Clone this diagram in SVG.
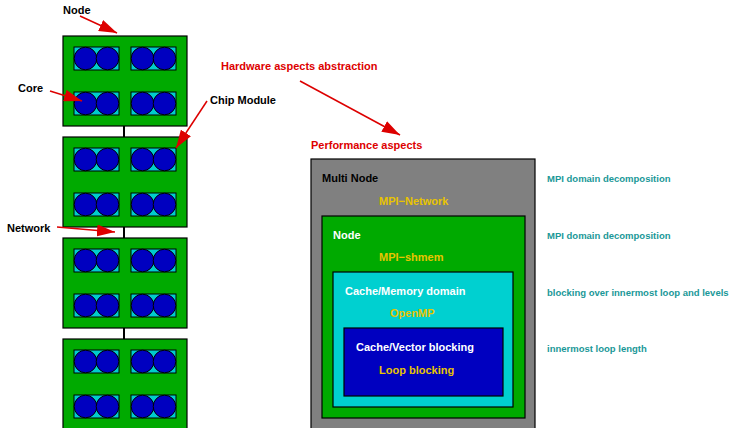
<svg xmlns="http://www.w3.org/2000/svg" xmlns:xlink="http://www.w3.org/1999/xlink" width="734" height="428" viewBox="0 0 734 428">
  <style>
    text { font-family: "Liberation Sans", Arial, sans-serif; font-weight: bold; }
    .lbl { font-size: 11px; fill: #000000; }
    .red { font-size: 11px; fill: #dd0000; }
    .wht { font-size: 11px; fill: #ffffff; }
    .yel { font-size: 11px; fill: #e8c400; }
    .teal { font-size: 9.5px; fill: #1a9898; }
    .node { fill: #00aa00; stroke: #000000; stroke-width: 1.2; }
    .chip { fill: #00cccc; stroke: #000000; stroke-width: 1; }
    .core { fill: #0000c0; stroke: #000000; stroke-width: 1; }
    .link { stroke: #000000; stroke-width: 2; }
    .arrow { stroke: #dd0000; stroke-width: 1.5; fill: none; marker-end: url(#head); }
  </style>
  <defs>
    <marker id="head" viewBox="0 0 18 12" refX="18" refY="6" markerWidth="18" markerHeight="12" markerUnits="userSpaceOnUse" orient="auto">
      <path d="M0,0 L18,6 L0,12 z" fill="#dd0000"/>
    </marker>
    <g id="chipShape">
      <rect class="chip" x="0" y="0" width="45" height="23"/>
      <circle class="core" cx="11.5" cy="11.5" r="11.3"/>
      <circle class="core" cx="33.5" cy="11.5" r="11.3"/>
    </g>
    <g id="nodeShape">
      <rect class="node" x="0" y="0" width="124" height="90"/>
      <use xlink:href="#chipShape" x="11" y="11"/>
      <use xlink:href="#chipShape" x="68" y="11"/>
      <use xlink:href="#chipShape" x="11" y="56"/>
      <use xlink:href="#chipShape" x="68" y="56"/>
    </g>
  </defs>

  <!-- network links between nodes -->
  <g id="connectors">
    <line class="link" x1="124" y1="126" x2="124" y2="137"/>
    <line class="link" x1="124" y1="227" x2="124" y2="238"/>
    <line class="link" x1="124" y1="328" x2="124" y2="339"/>
  </g>

  <!-- stack of nodes -->
  <g id="node1" transform="translate(63,36)"><use xlink:href="#nodeShape"/></g>
  <g id="node2" transform="translate(63,137)"><use xlink:href="#nodeShape"/></g>
  <g id="node3" transform="translate(63,238)"><use xlink:href="#nodeShape"/></g>
  <g id="node4" transform="translate(63,339)"><use xlink:href="#nodeShape"/></g>

  <!-- callout labels -->
  <g id="labels">
    <text class="lbl" x="63" y="14">Node</text>
    <text class="lbl" x="18" y="92">Core</text>
    <text class="lbl" x="210" y="104">Chip Module</text>
    <text class="lbl" x="7" y="232">Network</text>
    <text class="red" x="221" y="70">Hardware aspects abstraction</text>
    <text class="red" x="311" y="149">Performance aspects</text>
  </g>
  <g id="arrows">
    <line class="arrow" x1="80" y1="16" x2="117" y2="33"/>
    <line class="arrow" x1="50" y1="91" x2="82" y2="101"/>
    <line class="arrow" x1="207" y1="101" x2="176" y2="148"/>
    <line class="arrow" x1="57" y1="227" x2="115" y2="232"/>
    <line class="arrow" x1="300" y1="81" x2="400" y2="135"/>
  </g>

  <!-- nested performance levels -->
  <g id="multinode">
    <rect x="311" y="159" width="224" height="275" fill="#808080" stroke="#000000" stroke-width="1.2"/>
    <text class="lbl" x="322" y="182">Multi Node</text>
    <text class="yel" x="379" y="205">MPI−Network</text>
  </g>
  <g id="nodeLevel">
    <rect x="322" y="216" width="203" height="202" fill="#00aa00" stroke="#000000" stroke-width="1.2"/>
    <text class="wht" x="333" y="239">Node</text>
    <text class="yel" x="379" y="261">MPI−shmem</text>
  </g>
  <g id="cacheMemory">
    <rect x="333" y="272" width="180" height="135" fill="#00d0d0" stroke="#000000" stroke-width="1.2"/>
    <text class="wht" x="345" y="295">Cache/Memory domain</text>
    <text class="yel" x="390" y="317">OpenMP</text>
  </g>
  <g id="cacheVector">
    <rect x="344" y="328" width="159" height="68" fill="#0000c0" stroke="#000000" stroke-width="1.2"/>
    <text class="wht" x="356" y="351">Cache/Vector blocking</text>
    <text class="yel" x="379" y="374">Loop blocking</text>
  </g>

  <!-- decomposition notes -->
  <g id="notes">
    <text class="teal" x="547" y="182">MPI domain decomposition</text>
    <text class="teal" x="547" y="239">MPI domain decomposition</text>
    <text class="teal" x="547" y="296">blocking over innermost loop and levels</text>
    <text class="teal" x="547" y="352">innermost loop length</text>
  </g>
</svg>
